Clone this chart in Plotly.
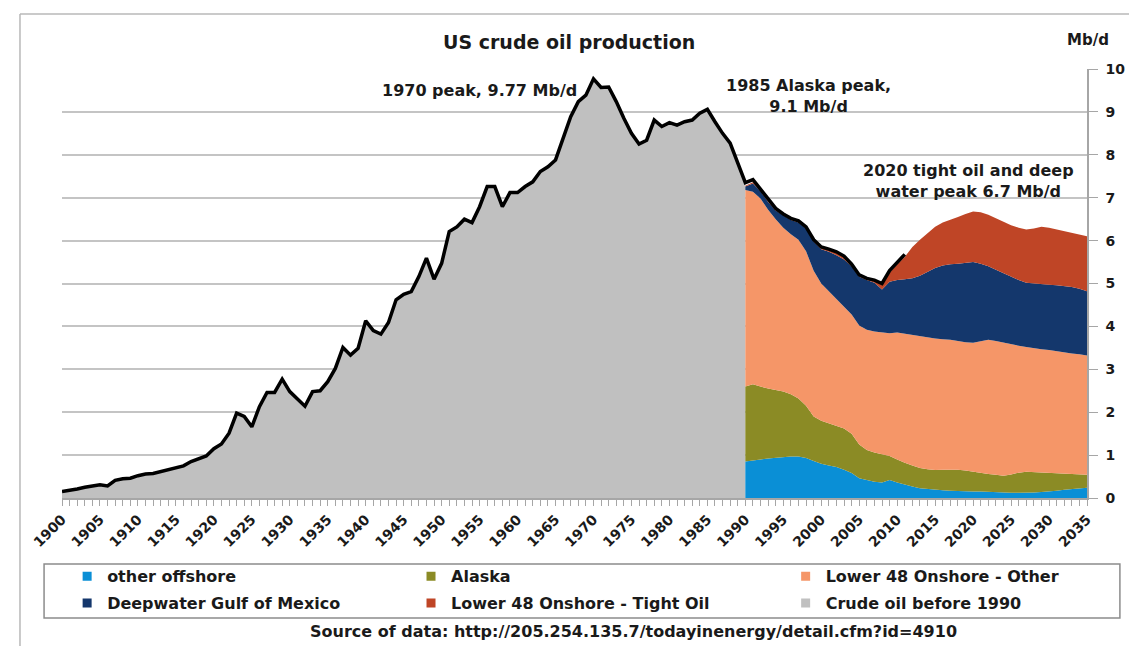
import plotly.graph_objects as go

# ---------------- data ----------------
years_total = list(range(1900, 2012))
# Total US crude production (Mb/d), 1900-2011 (black line)
total_production = [
    0.15, 0.17, 0.21, 0.25, 0.29, 0.31, 0.28, 0.41, 0.45, 0.46,
    0.52, 0.56, 0.57, 0.62, 0.67, 0.70, 0.75, 0.85, 0.91, 0.98,
    1.15, 1.26, 1.51, 1.98, 1.90, 1.66, 2.13, 2.46, 2.46, 2.77,
    2.48, 2.30, 2.14, 2.48, 2.50, 2.71, 3.02, 3.51, 3.33, 3.49,
    4.13, 3.90, 3.82, 4.09, 4.62, 4.75, 4.81, 5.16, 5.59, 5.10,
    5.47, 6.21, 6.32, 6.50, 6.42, 6.79, 7.26, 7.26, 6.79, 7.12,
    7.12, 7.26, 7.37, 7.61, 7.72, 7.88, 8.38, 8.89, 9.24, 9.39,
    9.77, 9.57, 9.58, 9.24, 8.85, 8.50, 8.25, 8.34, 8.81, 8.66,
    8.75, 8.69, 8.77, 8.81, 8.97, 9.06, 8.77, 8.50, 8.27, 7.80,
    7.35, 7.42, 7.20, 6.95, 6.75, 6.62, 6.52, 6.46, 6.32, 6.02,
    5.85, 5.80, 5.74, 5.64, 5.45, 5.20, 5.12, 5.08, 5.00, 5.30,
    5.50, 5.68,
]
years_hist = list(range(1900, 1991))

years_proj = list(range(1990, 2036))
other_offshore = [
    0.85, 0.88, 0.90, 0.92, 0.94, 0.96, 0.97, 0.97, 0.93, 0.86,
    0.80, 0.76, 0.72, 0.66, 0.58, 0.46, 0.42, 0.38, 0.36, 0.42,
    0.36, 0.31, 0.27, 0.23, 0.21, 0.19, 0.18, 0.17, 0.16, 0.16,
    0.15, 0.15, 0.14, 0.13, 0.12, 0.12, 0.12, 0.12, 0.13, 0.14,
    0.15, 0.17, 0.19, 0.21, 0.23, 0.24,
]
alaska = [
    1.75, 1.77, 1.70, 1.63, 1.58, 1.52, 1.45, 1.35, 1.22, 1.04,
    1.00, 0.98, 0.96, 0.96, 0.92, 0.79, 0.70, 0.68, 0.66, 0.56,
    0.54, 0.51, 0.49, 0.47, 0.46, 0.46, 0.48, 0.49, 0.50, 0.48,
    0.46, 0.43, 0.42, 0.41, 0.40, 0.43, 0.47, 0.49, 0.47, 0.45,
    0.43, 0.40, 0.38, 0.35, 0.32, 0.30,
]
lower48_other = [
    4.58, 4.49, 4.38, 4.17, 3.98, 3.82, 3.73, 3.70, 3.60, 3.40,
    3.20, 3.08, 2.97, 2.86, 2.78, 2.77, 2.80, 2.82, 2.84, 2.86,
    2.96, 3.01, 3.04, 3.07, 3.07, 3.07, 3.04, 3.03, 3.00, 2.99,
    3.01, 3.08, 3.13, 3.12, 3.10, 3.03, 2.96, 2.91, 2.89, 2.88,
    2.87, 2.85, 2.83, 2.81, 2.80, 2.78,
]
deepwater_gom = [
    0.08, 0.19, 0.17, 0.18, 0.20, 0.28, 0.33, 0.40, 0.53, 0.68,
    0.80, 0.92, 1.01, 1.08, 1.12, 1.14, 1.16, 1.14, 1.00, 1.20,
    1.22, 1.27, 1.32, 1.41, 1.54, 1.64, 1.72, 1.76, 1.80, 1.85,
    1.88, 1.80, 1.71, 1.66, 1.62, 1.58, 1.53, 1.50, 1.51, 1.51,
    1.52, 1.54, 1.54, 1.55, 1.53, 1.50,
]
tight_oil = [
    0.02, 0.03, 0.02, 0.02, 0.02, 0.02, 0.02, 0.02, 0.02, 0.02,
    0.03, 0.04, 0.06, 0.06, 0.06, 0.06, 0.06, 0.08, 0.12, 0.21,
    0.37, 0.52, 0.73, 0.84, 0.90, 0.96, 1.00, 1.03, 1.09, 1.14,
    1.18, 1.20, 1.20, 1.20, 1.20, 1.20, 1.22, 1.24, 1.28, 1.34,
    1.33, 1.30, 1.28, 1.26, 1.27, 1.28,
]

tick_years = list(range(1900, 2036, 5))
tick_labels = [str(y) for y in tick_years]
y_ticks = list(range(0, 11))

series = [
    ("other offshore", other_offshore, "#0a8fd6", "legend"),
    ("Alaska", alaska, "#8b8b25", "legend2"),
    ("Lower 48 Onshore - Other", lower48_other, "#f59668", "legend3"),
    ("Deepwater Gulf of Mexico", deepwater_gom, "#14376c", "legend"),
    ("Lower 48 Onshore - Tight Oil", tight_oil, "#bf4526", "legend2"),
]
gray = "#c0c0c0"

FONT = "DejaVu Sans"
TXT = "#1a1a1a"

fig = go.Figure()

# gray area before 1990
fig.add_trace(go.Scatter(
    x=years_hist, y=total_production[:len(years_hist)],
    mode="lines", line=dict(width=0, color=gray),
    fill="tozeroy", fillcolor=gray, showlegend=False, hoverinfo="skip",
))

# stacked projections
for name, vals, col, lg in series:
    fig.add_trace(go.Scatter(
        x=years_proj, y=vals, mode="lines", line=dict(width=0, color=col),
        stackgroup="proj", fillcolor=col, showlegend=False, name=name,
    ))

# black total line
fig.add_trace(go.Scatter(
    x=years_total, y=total_production, mode="lines",
    line=dict(color="black", width=3.5), showlegend=False,
))

# legend entries (three columns)
legend_items = series[:3] + [series[3], series[4], ("Crude oil before 1990", None, gray, "legend3")]
for idx, (name, _, col, lg) in enumerate(legend_items):
    fig.add_trace(go.Scatter(
        x=[None], y=[None], mode="markers", name=name,
        marker=dict(symbol="square", size=9, color=col),
        legend=lg, legendgroup=name, showlegend=True,
    ))

legend_common = dict(
    orientation="v", bgcolor="rgba(0,0,0,0)", borderwidth=0,
    font=dict(family=FONT, size=16, color=TXT, weight="bold"),
    yanchor="top", y=-0.143, xanchor="left", tracegroupgap=3,
    itemwidth=30,
)

# page body has an 8px margin: figure is drawn 8px in from the window corner
fig.update_layout(
    width=1129, height=638,
    margin=dict(l=54, r=47, t=61, b=148),
    paper_bgcolor="white", plot_bgcolor="white",
    font=dict(family=FONT, color=TXT),
    xaxis=dict(
        type="linear", range=[1900, 2035],
        tickmode="array", tickvals=tick_years, ticktext=tick_labels,
        tickangle=-45, tickfont=dict(family=FONT, size=14, color=TXT, weight="bold"),
        ticks="outside", ticklen=6, tickcolor="#a6a6a6", tickwidth=1,
        minor=dict(dtick=1, tick0=1900, ticks="outside", ticklen=6, tickcolor="#a6a6a6", showgrid=False),
        showgrid=False, zeroline=False, showline=True, linecolor="#a6a6a6", linewidth=1.5,
    ),
    yaxis=dict(
        side="right", range=[0, 10], tickvals=y_ticks,
        tickfont=dict(family=FONT, size=14, color=TXT, weight="bold"),
        ticks="outside", ticklen=9, tickcolor="#a6a6a6", ticklabelstandoff=5,
        showgrid=True, gridcolor="#c4c4c4", gridwidth=1.5,
        zeroline=False, showline=True, linecolor="#a6a6a6", linewidth=1.5,
    ),
    legend=dict(legend_common, x=0.005),
    legend2=dict(legend_common, x=0.3405),
    legend3=dict(legend_common, x=0.706),
    showlegend=True,
)

# legend frame and outer frame
fig.add_shape(type="rect", xref="paper", yref="paper",
              x0=-0.0175, x1=1.0321, y0=-0.2797, y1=-0.1538,
              line=dict(color="#8c8c8c", width=1.5), fillcolor="rgba(0,0,0,0)", layer="below")
fig.add_shape(type="line", xref="paper", yref="paper",
              x0=-0.041, x1=1.05, y0=1.128, y1=1.128, line=dict(color="#b8b8b8", width=1.5))
fig.add_shape(type="line", xref="paper", yref="paper",
              x0=-0.041, x1=-0.041, y0=1.128, y1=-0.345, line=dict(color="#b8b8b8", width=1.5))

ann_font = dict(family=FONT, size=16, color=TXT, weight="bold")
fig.add_annotation(text="US crude oil production", xref="paper", yref="paper",
                   x=0.495, y=1.0629, yanchor="middle", showarrow=False,
                   font=dict(family=FONT, size=19, color=TXT, weight="bold"))
fig.add_annotation(text="Mb/d", xref="paper", yref="paper", x=1.0233, y=1.067,
                   yanchor="middle", showarrow=False,
                   font=dict(family=FONT, size=15, color=TXT, weight="bold"))
fig.add_annotation(text="1970 peak, 9.77 Mb/d", x=1955.0, y=9.51, xref="x", yref="y",
                   showarrow=False, font=ann_font)
fig.add_annotation(text="1985 Alaska peak,<br>9.1 Mb/d", x=1998.3, y=9.36, xref="x", yref="y",
                   showarrow=False, font=ann_font)
fig.add_annotation(text="2020 tight oil and deep<br>water peak 6.7 Mb/d", x=2019.4, y=7.38,
                   xref="x", yref="y", showarrow=False, font=ann_font)
fig.add_annotation(text="Source of data: http://205.254.135.7/todayinenergy/detail.cfm?id=4910",
                   xref="paper", yref="paper", x=0.8755, xanchor="right", y=-0.312,
                   yanchor="middle", showarrow=False,
                   font=dict(family=FONT, size=16, color=TXT, weight="bold"))

fig.write_html("out.html")
